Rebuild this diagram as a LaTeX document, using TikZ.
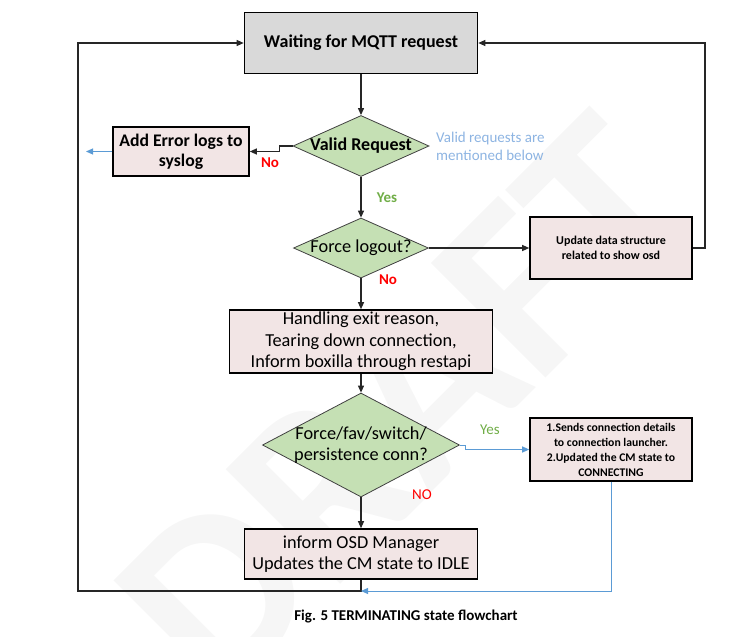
\documentclass[tikz,border=0pt]{standalone}
\usepackage{fontspec}
\setmainfont{Carlito}
\usepackage{tikz}
\usetikzlibrary{arrows.meta,shapes.geometric}
\usepackage[dvipsnames,svgnames,x11names]{xcolor}

\definecolor{boxpink}{RGB}{242,229,229}
\definecolor{diagreen}{RGB}{197,224,180}
\definecolor{waitgray}{RGB}{217,217,217}
\definecolor{linkblue}{RGB}{91,155,213}
\definecolor{noteblue}{RGB}{141,180,226}
\definecolor{yesgreen}{RGB}{112,173,71}

\newcommand{\dmtext}[1]{\makebox[0pt]{#1}}

\begin{document}
\begin{tikzpicture}[
    x=1pt, y=-1pt,
    >={Triangle[length=7pt,width=6pt]},
    procbox/.style={
        draw=black,
        line width=1.6pt,
        fill=boxpink,
        inner sep=0pt,
        align=center,
        font=\fontsize{18.3}{21.5}\selectfont
    },
    smallbox/.style={
        procbox,
        font=\fontsize{12}{15}\selectfont\bfseries
    },
    decision/.style={
        diamond,
        draw=black!75,
        line width=0.8pt,
        fill=diagreen,
        inner sep=0pt,
        aspect=2.2,
        align=center,
        font=\fontsize{18.3}{21}\selectfont
    },
    flow/.style={->, line width=1.1pt, black!85},
    blueflow/.style={->, line width=1pt, linkblue},
    yeslbl/.style={text=yesgreen, font=\fontsize{15}{15}\selectfont},
    nolbl/.style={text=red, font=\fontsize{15}{15}\selectfont}
]

\useasboundingbox (0,0) rectangle (755,637);

% Watermark

\node[
    rotate=45,
    text=gray!7,
    font=\fontsize{250}{250}\selectfont\bfseries
] (wmark) at (405,405) {DRAFT};


% Boxes

\node[
    procbox,
    fill=waitgray,
    minimum width=233pt,
    minimum height=61pt,
    font=\fontsize{18}{20}\selectfont\bfseries
] (waiting) at (361,43) {Waiting for MQTT request};

\node[
    decision,
    minimum width=136pt,
    minimum height=61pt,
    font=\fontsize{18}{20}\selectfont\bfseries
] (valid) at (361,146) {\dmtext{Valid Request}};

\node[
    procbox,
    minimum width=136pt,
    minimum height=49pt,
    font=\fontsize{17.7}{20}\selectfont\bfseries
] (error) at (181,151.5) {Add Error logs to\\syslog};

\node[
    text=noteblue,
    anchor=west,
    align=left,
    inner sep=0pt,
    font=\fontsize{15}{18}\selectfont
] (note) at (436,146) {Valid requests are\\mentioned below};

\node[
    decision,
    minimum width=135pt,
    minimum height=60pt
] (logout) at (361,248) {\dmtext{Force logout?}};

\node[
    smallbox,
    minimum width=162pt,
    minimum height=62pt
] (update) at (611,248) {Update data structure\\related to show osd};

\node[
    procbox,
    minimum width=263pt,
    minimum height=63pt
] (handling) at (361,341.5) {Handling exit reason,\\Tearing down connection,\\Inform boxilla through restapi};

\node[
    decision,
    minimum width=197pt,
    minimum height=104pt
] (favconn) at (361,445) {\dmtext{Force/fav/switch/}\\\dmtext{persistence conn?}};

\node[
    smallbox,
    font=\fontsize{11.7}{15}\selectfont\bfseries,
    minimum width=162pt,
    minimum height=63pt
] (sends) at (611,449.5) {1.Sends connection details\\to connection launcher.\\2.Updated the CM state to\\CONNECTING};

\node[
    procbox,
    minimum width=233pt,
    minimum height=50pt
] (inform) at (361,554) {inform OSD Manager\\Updates the CM state to IDLE};

\node[
    font=\fontsize{15}{16}\selectfont\bfseries
] (caption) at (406,617) {Fig. 5 TERMINATING state flowchart};


% Labels

\node[yeslbl, font=\fontsize{15}{15}\selectfont\bfseries] (yesvalid) at (387,198) {Yes};
\node[nolbl, font=\fontsize{15}{15}\selectfont\bfseries] (novalid) at (270,163) {No};
\node[nolbl, font=\fontsize{15}{15}\selectfont\bfseries] (nologout) at (388,280) {No};
\node[yeslbl] (yesfav) at (490,430) {Yes};
\node[nolbl] (nofav) at (422,495) {NO};


% Corners

\coordinate (errout) at (86,151.5);
\coordinate (lcorner) at (78,591);
\coordinate (rtop) at (705,43);
\coordinate (bjoin) at (361,591);


% Flow

\draw[flow] (waiting) -- (valid);
\draw[flow] (valid.west) -- ++(-13,0) |- (error.east);
\draw[blueflow] (error.west) -- (errout);
\draw[flow] (valid) -- (logout);
\draw[flow] (logout) -- (update);
\draw[flow] (update.east) -| (rtop) -- (waiting.east);
\draw[flow] (logout) -- (handling);
\draw[flow] (handling) -- (favconn);
\draw[blueflow] (favconn.east) -- ++(6,0) |- (sends.west);
\draw[flow] (favconn) -- (inform);
\draw[flow] (inform.south) |- (lcorner) |- (waiting.west);
\draw[blueflow] (sends.south) |- (bjoin);

\end{tikzpicture}
\end{document}
